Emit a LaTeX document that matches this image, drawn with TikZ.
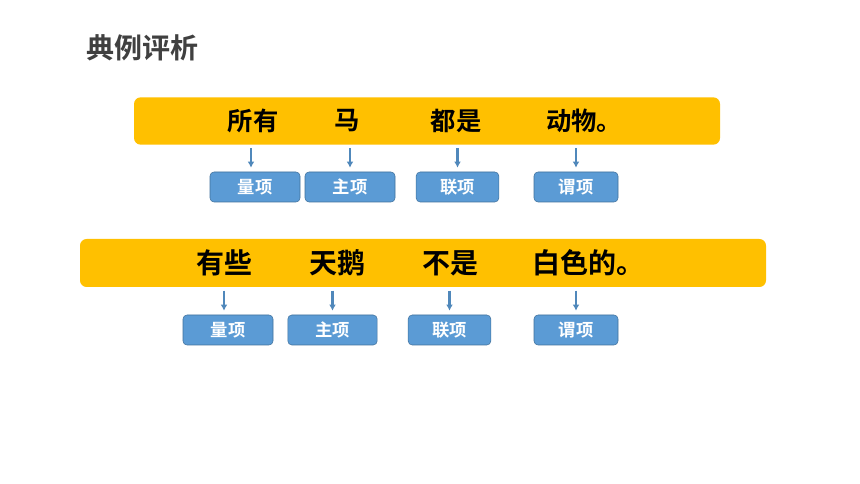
\documentclass[tikz,border=0pt]{standalone}
\usepackage{fontspec}
\setmainfont{Noto Sans CJK SC}
\newfontfamily\cjkbold{Noto Sans CJK SC Bold}
\definecolor{barYellow}{HTML}{FFC000}
\definecolor{boxBlue}{HTML}{5B9BD5}
\definecolor{boxEdge}{HTML}{41719C}
\definecolor{titleGray}{HTML}{404040}
\tikzset{
    bar/.style={fill=barYellow, rounded corners=5pt, inner sep=0pt},
    word/.style={font=\cjkbold\fontsize{19}{19}\selectfont, inner sep=0pt},
    bigword/.style={font=\cjkbold\fontsize{21}{21}\selectfont, inner sep=0pt},
    termbox/.style={draw=boxEdge, fill=boxBlue, rounded corners=3pt, text=white,
        font=\cjkbold\fontsize{13}{13}\selectfont, inner sep=0pt, minimum height=22.5pt},
    arr/.style={draw=boxBlue!88!black, line width=2pt, -{Latex[length=4.5pt,width=5pt]},
        shorten <=2.5pt, shorten >=3pt}
}
\usetikzlibrary{arrows.meta}
\begin{document}
\begin{tikzpicture}[x=0.75pt, y=-0.75pt]
        \useasboundingbox[fill=white] (0,0) rectangle (860,484);

        \node[font=\cjkbold\fontsize{21}{21}\selectfont, text=titleGray, anchor=west, inner sep=0pt] (title) at (86,48) {典例评析};

        % first sentence
        \node[bar, minimum width=439.5pt, minimum height=35.5pt] (bar1) at (427,121) {};
        \node[word] (w11) at (253,121) {所有};
        \node[word] (w12) at (347,121) {马};
        \node[word] (w13) at (456,121) {都是};
        \node[word] (w14) at (584,121) {动物。};

        \node[termbox, minimum width=67.5pt] (t11) at (255,187) {量项};
        \node[termbox, minimum width=67.5pt] (t12) at (350,187) {主项};
        \node[termbox, minimum width=62pt] (t13) at (457.5,187) {联项};
        \node[termbox, minimum width=63pt] (t14) at (576,187) {谓项};

        \draw[arr] ([xshift=-3pt]t11.north |- bar1.south) -- ([xshift=-3pt]t11.north);
        \draw[arr] (t12.north |- bar1.south) -- (t12.north);
        \draw[arr] (t13.north |- bar1.south) -- (t13.north);
        \draw[arr] (t14.north |- bar1.south) -- (t14.north);

        % second sentence
        \node[bar, minimum width=514.5pt, minimum height=36pt] (bar2) at (423,263) {};
        \node[bigword] (w21) at (224,263) {有些};
        \node[bigword] (w22) at (337,263) {天鹅};
        \node[bigword] (w23) at (450,263) {不是};
        \node[bigword] (w24) at (588,263) {白色的。};

        \node[termbox, minimum width=67.5pt] (t21) at (228,330) {量项};
        \node[termbox, minimum width=67pt] (t22) at (332.5,330) {主项};
        \node[termbox, minimum width=62pt] (t23) at (449.5,330) {联项};
        \node[termbox, minimum width=63pt] (t24) at (576,330) {谓项};

        \draw[arr] ([xshift=-3pt]t21.north |- bar2.south) -- ([xshift=-3pt]t21.north);
        \draw[arr] (t22.north |- bar2.south) -- (t22.north);
        \draw[arr] (t23.north |- bar2.south) -- (t23.north);
        \draw[arr] (t24.north |- bar2.south) -- (t24.north);
    \end{tikzpicture}
\end{document}
